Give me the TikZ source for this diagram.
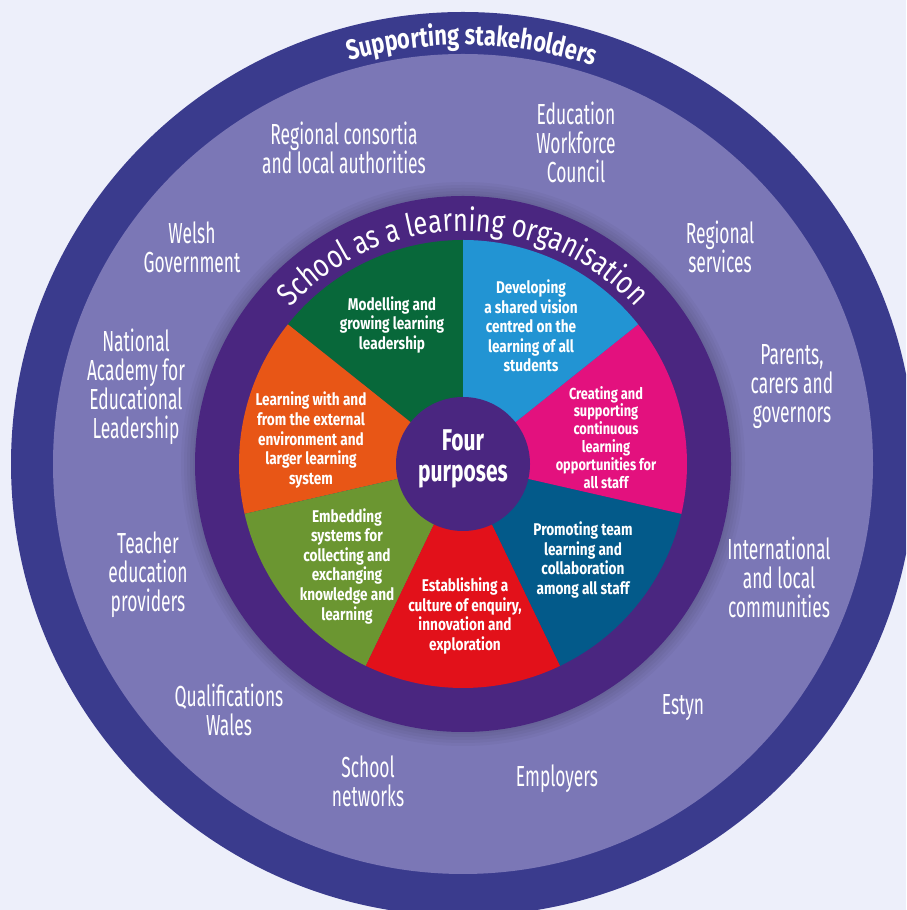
\documentclass[tikz,border=0pt]{standalone}
\usepackage{fontspec}
\setmainfont{Fira Sans}
\newfontfamily\stakef[FakeStretch=0.6]{Fira Sans}
\newfontfamily\secf[FakeStretch=0.8]{Fira Sans}
\newfontfamily\fourf[FakeStretch=0.7]{Fira Sans}
\newfontfamily\arcf[FakeStretch=0.8]{Fira Sans}
\newfontfamily\arcg[FakeStretch=0.78]{Fira Sans}
\usetikzlibrary{decorations.text}
\definecolor{bgc}{HTML}{EDEFFA}
\definecolor{outerring}{HTML}{3A3B8D}
\definecolor{stakefill}{HTML}{7B77B6}
\definecolor{ringc}{HTML}{4A2680}
\definecolor{secgreen}{HTML}{08683A}
\definecolor{secblue}{HTML}{2294D3}
\definecolor{secmagenta}{HTML}{E3117E}
\definecolor{secnavy}{HTML}{035A8A}
\definecolor{secred}{HTML}{E2111A}
\definecolor{secolive}{HTML}{6B9631}
\definecolor{secorange}{HTML}{E85616}
\newcommand\mysector[3]{\fill[#1] (0,0) -- (#2:224) arc[start angle=#2, end angle=#3, radius=224] -- cycle;}
\begin{document}
\begin{tikzpicture}[x=1pt,y=1pt,
  stake/.style={text=white, align=center, font=\stakef\fontsize{29}{29}\selectfont, inner sep=0pt},
  seclabel/.style={text=white, align=center, font=\secf\bfseries\fontsize{17}{19.6}\selectfont, inner sep=0pt},
  seclabelsmall/.style={text=white, align=center, font=\secf\bfseries\fontsize{16}{17.9}\selectfont, inner sep=0pt},
]
\useasboundingbox (0,0) rectangle (906,910);
\fill[bgc] (0,0) rectangle (906,910);
\clip (0,0) rectangle (906,910);
\begin{scope}[shift={(463,446)}]
  % outer rings
  \fill[outerring] (0,0) circle (452);
  \fill[stakefill] (0,0) circle (410);
  % shadow halo
  \foreach \r in {282,279,...,270} {\fill[black, opacity=0.03] (0,0) circle (\r);}
  \fill[ringc] (0,0) circle (268);
  % sectors
  \mysector{secgreen}{90}{141.43}
  \mysector{secorange}{141.43}{192.86}
  \mysector{secolive}{192.86}{244.29}
  \mysector{secred}{244.29}{295.71}
  \mysector{secnavy}{295.71}{347.14}
  \mysector{secmagenta}{347.14}{398.57}
  \mysector{secblue}{38.57}{90}
  % centre
  \fill[ringc] (0,0) circle (67);
  \node[text=white, align=center, inner sep=0pt, font=\fourf\bfseries\fontsize{30}{31}\selectfont] (four) at (0,5) {Four\\purposes};
  % curved titles
  \path[decorate, decoration={text along path, text align=center, text color=white,
    text={|\arcf\fontsize{32}{32}\selectfont|School as a learning organisation}}]
    (180:233) arc[start angle=180, end angle=0, radius=233];
  \path[decorate, decoration={text along path, text align=center, text color=white,
    text={|\arcg\bfseries\fontsize{28}{28}\selectfont|Supporting stakeholders}}]
    (178.8:419) arc[start angle=178.8, end angle=-1.2, radius=419];
  % sector labels
  \node[seclabel] (s1) at (-71,139) {Modelling and\\growing learning\\leadership};
  \node[seclabel] (s2) at (68,138) {Developing\\a shared vision\\centred on the\\learning of all\\students};
  \node[seclabelsmall] (s3) at (143,26.5) {Creating and\\supporting\\continuous\\learning\\opportunities for\\all staff};
  \node[seclabel] (s4) at (120,-96) {Promoting team\\learning and\\collaboration\\among all staff};
  \node[seclabel] (s5) at (2,-152) {Establishing a\\culture of enquiry,\\innovation and\\exploration};
  \node[seclabel] (s6) at (-116,-102) {Embedding\\systems for\\collecting and\\exchanging\\knowledge and\\learning};
  \node[seclabel] (s7) at (-152,24) {Learning with and\\from the external\\environment and\\larger learning\\system};
  % stakeholder labels
  \node[stake] (k1) at (-119,316) {Regional consortia\\and local authorities};
  \node[stake] (k2) at (113,322) {Education\\Workforce\\Council};
  \node[stake] (k3) at (-271,217) {Welsh\\Government};
  \node[stake] (k4) at (257,217) {Regional\\services};
  \node[stake] (k5) at (-327,77) {National\\Academy for\\Educational\\Leadership};
  \node[stake] (k6) at (329,77) {Parents,\\carers and\\governors};
  \node[stake] (k7) at (-315,-111) {Teacher\\education\\providers};
  \node[stake] (k8) at (316,-113) {International\\and local\\communities};
  \node[stake] (k9) at (-234,-246) {Qualifications\\Wales};
  \node[stake] (k10) at (220,-244) {Estyn};
  \node[stake] (k11) at (-95,-317) {School\\networks};
  \node[stake] (k12) at (94,-315) {Employers};
\end{scope}
\end{tikzpicture}
\end{document}
